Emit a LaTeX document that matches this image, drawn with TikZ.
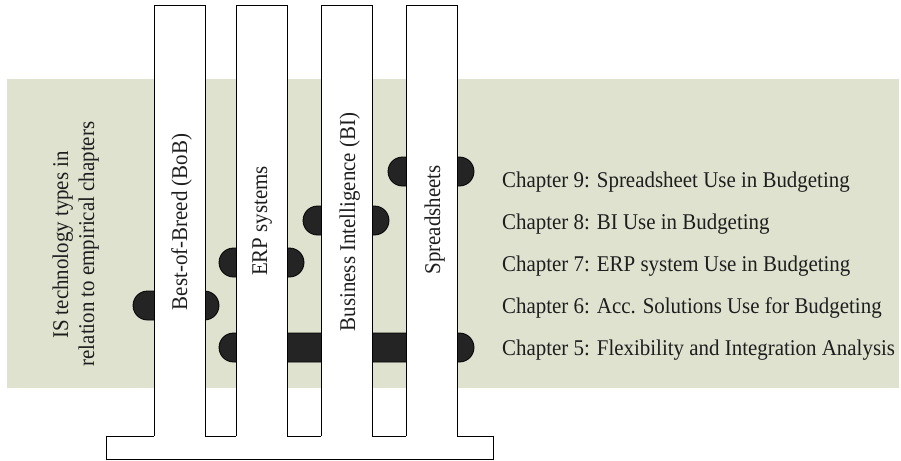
\documentclass[tikz,border=0pt]{standalone}
\usepackage{fontspec}
\setmainfont[FakeStretch=0.93]{Liberation Serif}
\definecolor{bandgreen}{RGB}{222,226,207}
\definecolor{blobfill}{RGB}{36,36,36}
\definecolor{inkcol}{RGB}{30,30,30}
\begin{document}
\begin{tikzpicture}[x=1pt,y=-1pt,
  txt/.style={inner sep=0pt,text=inkcol,font=\fontsize{22.5}{27}\selectfont},
  blob/.style={fill=blobfill,draw=black,line width=0.8pt,rounded corners=14.5pt},
  outline/.style={draw=black,line width=0.9pt}]
\useasboundingbox (0,0) rectangle (901,460);
% background band
\fill[bandgreen] (7,79) rectangle (899,388);
% blobs (chapter connectors)
\path[blob] (388,157) rectangle (474,186);
\path[blob] (303,206) rectangle (389,235);
\path[blob] (219,248) rectangle (304,277);
\path[blob] (133,291) rectangle (219,320);
\path[blob] (219,333) rectangle (474,362);
% base
\draw[outline,fill=white] (106,436) rectangle (493,459);
% pillars
\foreach \xa/\xb in {154/205, 236/287, 321/372, 406/457}{
  \fill[white] (\xa,5) rectangle (\xb,437);
  \draw[outline] (\xa,436) -- (\xa,5) -- (\xb,5) -- (\xb,436);
}
% pillar labels
\node[txt,rotate=90,anchor=base] (lbob) at (187,222) {Best-of-Breed (BoB)};
\node[txt,rotate=90,anchor=base] (lerp) at (267,221) {ERP systems};
\node[txt,rotate=90,anchor=base] (lbi) at (355,222) {Business Intelligence (BI)};
\node[txt,rotate=90,anchor=base] (lss) at (440,220) {Spreadsheets};
% left label
\node[txt,rotate=90,anchor=base] (ltop) at (68,245) {IS technology types in};
\node[txt,rotate=90,anchor=base] (lbot) at (94,244) {relation to empirical chapters};
% chapter labels
\node[txt,anchor=base west] (c9) at (502,187) {Chapter 9: Spreadsheet Use in Budgeting};
\node[txt,anchor=base west] (c8) at (502,229) {Chapter 8: BI Use in Budgeting};
\node[txt,anchor=base west] (c7) at (502,271) {Chapter 7: ERP system Use in Budgeting};
\node[txt,anchor=base west] (c6) at (502,313) {Chapter 6: Acc. Solutions Use for Budgeting};
\node[txt,anchor=base west] (c5) at (502,355) {Chapter 5: Flexibility and Integration Analysis};
\end{tikzpicture}
\end{document}
